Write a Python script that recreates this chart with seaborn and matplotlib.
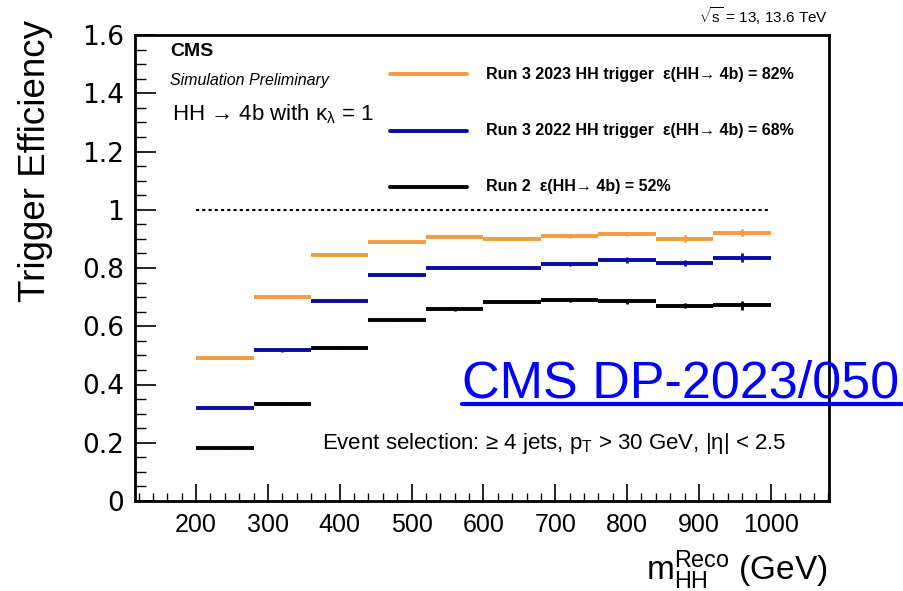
import numpy as np
import pandas as pd
import matplotlib
matplotlib.use("Agg")
import matplotlib.pyplot as plt
from matplotlib.lines import Line2D
from matplotlib.ticker import MultipleLocator
import seaborn as sns

# Reconstructed di-Higgs mass bins (GeV)
bin_edges = [200, 280, 360, 440, 520, 600, 680, 760, 840, 920, 1000]

# Trigger efficiency per bin
eff_run3_2023 = [0.492, 0.702, 0.844, 0.890, 0.905, 0.900, 0.909, 0.917, 0.900, 0.921]
eff_run3_2022 = [0.319, 0.517, 0.685, 0.775, 0.800, 0.800, 0.814, 0.828, 0.817, 0.836]
eff_run2 = [0.182, 0.332, 0.526, 0.621, 0.658, 0.683, 0.689, 0.685, 0.671, 0.672]

# Statistical uncertainties
err_run3_2023 = [0.006, 0.003, 0.003, 0.003, 0.003, 0.004, 0.006, 0.007, 0.012, 0.012]
err_run3_2022 = [0.004, 0.005, 0.003, 0.003, 0.004, 0.005, 0.007, 0.010, 0.010, 0.014]
err_run2 = [0.003, 0.003, 0.003, 0.003, 0.004, 0.004, 0.007, 0.008, 0.010, 0.016]

series_names = ["Run 3 2023 HH trigger", "Run 3 2022 HH trigger", "Run 2"]
legend_labels = [
    "Run 3 2023 HH trigger  ε(HH→ 4b) = 82%",
    "Run 3 2022 HH trigger  ε(HH→ 4b) = 68%",
    "Run 2  ε(HH→ 4b) = 52%",
]
colors = ["#F29B40", "#0A0AA6", "#000000"]

xticks = [200, 300, 400, 500, 600, 700, 800, 900, 1000]
yticks = [0, 0.2, 0.4, 0.6, 0.8, 1.0, 1.2, 1.4, 1.6]
ytick_labels = ["0", "0.2", "0.4", "0.6", "0.8", "1", "1.2", "1.4", "1.6"]

sns.set_theme(style="white")
plt.rcParams["font.family"] = ["Liberation Sans", "DejaVu Sans"]
plt.rcParams["text.color"] = "black"
plt.rcParams["mathtext.fontset"] = "custom"
plt.rcParams["mathtext.rm"] = "Liberation Sans"
plt.rcParams["mathtext.it"] = "Liberation Sans:italic"
plt.rcParams["mathtext.bf"] = "Liberation Sans:bold"
plt.rcParams["mathtext.default"] = "regular"

# Long-form table: one segment (two endpoints) per bin and series
rows = []
values = [eff_run3_2023, eff_run3_2022, eff_run2]
for name, vals in zip(series_names, values):
    for i, v in enumerate(vals):
        rows.append({"series": name, "bin": i, "mHH": bin_edges[i], "eff": v})
        rows.append({"series": name, "bin": i, "mHH": bin_edges[i + 1], "eff": v})
df = pd.DataFrame(rows)

W, H = 904, 591
fig = plt.figure(figsize=(W / 100, H / 100), dpi=100)
ax = fig.add_axes([135 / W, 1 - 501 / H, 694 / W, (501 - 35) / H])

sns.lineplot(
    data=df, x="mHH", y="eff", hue="series", units="bin", estimator=None,
    palette=dict(zip(series_names, colors)), linewidth=2.8, legend=False, ax=ax,
    solid_capstyle="butt",
)

centers = [(a + b) / 2 for a, b in zip(bin_edges[:-1], bin_edges[1:])]
for vals, errs, c in zip(values, [err_run3_2023, err_run3_2022, err_run2], colors):
    ax.errorbar(centers, vals, yerr=errs, fmt="none", ecolor=c, elinewidth=2.0, capsize=0)

# Unit-efficiency reference
ax.hlines(1.0, bin_edges[0], bin_edges[-1], colors="black", linewidth=1.5,
          linestyles=(0, (1.5, 1.5)))

ax.set_xlim(115, 1081)
ax.set_ylim(0, 1.6)
ax.set_xticks(xticks)
ax.set_xticklabels([str(t) for t in xticks])
ax.set_yticks(yticks)
ax.set_yticklabels(ytick_labels)
ax.xaxis.set_minor_locator(MultipleLocator(20))
ax.yaxis.set_minor_locator(MultipleLocator(0.05))
ax.tick_params(axis="both", which="both", direction="in", top=False, right=False,
               bottom=True, left=True, colors="black")
ax.tick_params(axis="x", which="major", length=12, width=1.2, pad=9, labelsize=18)
ax.tick_params(axis="x", which="minor", length=6, width=1.0)
ax.tick_params(axis="y", which="major", length=15, width=1.2, pad=8, labelsize=19)
ax.tick_params(axis="y", which="minor", length=8, width=1.0)
for lab in ax.get_yticklabels():
    lab.set_family("DejaVu Sans")
for s in ax.spines.values():
    s.set_linewidth(2.0)
    s.set_color("black")
ax.set_xlabel("")
ax.set_ylabel("")

fig.text(36 / W, 1 - 20 / H, "Trigger Efficiency", rotation=90, ha="center",
         va="top", fontsize=26.5)
fig.text(828 / W, 1 - 580 / H, r"$m_{HH}^{Reco}$ (GeV)", ha="right",
         va="baseline", fontsize=24)

# Header texts
fig.text(170 / W, 1 - 52 / H, "CMS", fontsize=14, fontweight="bold",
         ha="left", va="center")
fig.text(170 / W, 1 - 80 / H, "Simulation Preliminary", fontsize=11.5,
         fontstyle="italic", ha="left", va="center")
fig.text(172 / W, 1 - 114 / H, r"HH → 4b with $\kappa_{\lambda}$ = 1",
         fontsize=16, ha="left", va="center")
fig.text(322 / W, 1 - 444 / H, r"Event selection: ≥ 4 jets, $p_{T}$ > 30 GeV, |η| < 2.5",
         fontsize=16, ha="left", va="center")
fig.text(828 / W, 1 - 16 / H, r"$\sqrt{s}$ = 13, 13.6 TeV", fontsize=11,
         ha="right", va="center")

# Legend entries
leg_y = [74, 131, 187]
for y, c, lab in zip(leg_y, colors, legend_labels):
    fig.add_artist(Line2D([390 / W, 467 / W], [1 - y / H, 1 - y / H],
                          color=c, linewidth=2.8, transform=fig.transFigure))
    fig.text(486 / W, 1 - y / H, lab, fontsize=11.5, fontweight="bold",
             ha="left", va="center")

# Document reference link
fig.text(462 / W, 1 - 397 / H, "CMS DP-2023/050", fontsize=37.5,
         color="#0000FF", ha="left", va="baseline")
fig.add_artist(Line2D([462 / W, 902 / W], [1 - 404 / H, 1 - 404 / H],
                      color="#0000FF", linewidth=3, transform=fig.transFigure))

fig.savefig("out.png", dpi=100)
